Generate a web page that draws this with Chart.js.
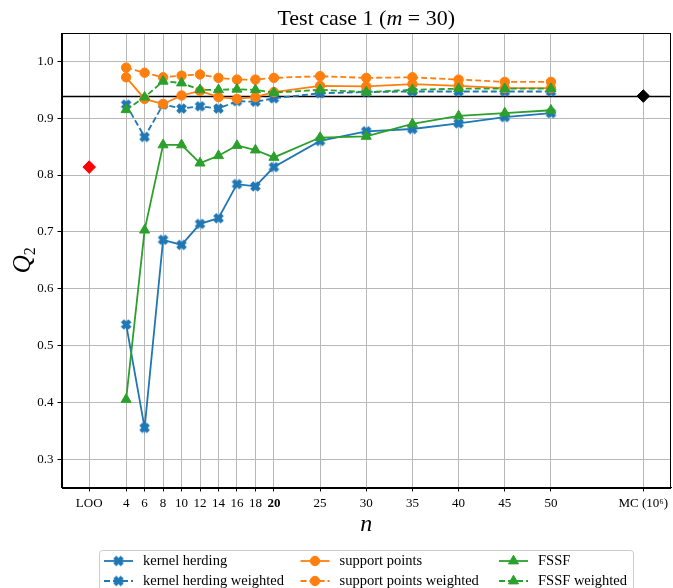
<!DOCTYPE html>
<html>
<head>
<meta charset="utf-8">
<script src="https://cdn.jsdelivr.net/npm/chart.js@4/dist/chart.umd.min.js"></script>
<style>
  html, body { margin: 0; padding: 0; background: #fff; }
  #wrap { width: 673px; height: 588px; }
</style>
</head>
<body>
<div id="wrap"><canvas id="c" width="673" height="588"></canvas></div>
<script>
// Sample sizes n and Q2 values for each design method (test case 1, m = 30)
const nValues = [4, 6, 8, 10, 12, 14, 16, 18, 20, 25, 30, 35, 40, 45, 50];
const kernelHerding         = [0.537, 0.355, 0.686, 0.677, 0.714, 0.724, 0.784, 0.780, 0.814, 0.860, 0.877, 0.881, 0.891, 0.902, 0.909];
const kernelHerdingWeighted = [0.924, 0.867, 0.924, 0.917, 0.921, 0.917, 0.930, 0.929, 0.935, 0.944, 0.946, 0.947, 0.947, 0.947, 0.947];
const supportPoints         = [0.972, 0.934, 0.925, 0.940, 0.948, 0.937, 0.934, 0.937, 0.946, 0.957, 0.956, 0.960, 0.957, 0.953, 0.953];
const supportPointsWeighted = [0.989, 0.980, 0.972, 0.975, 0.977, 0.971, 0.968, 0.968, 0.971, 0.974, 0.971, 0.972, 0.968, 0.964, 0.964];
const fssf                  = [0.405, 0.703, 0.853, 0.853, 0.821, 0.834, 0.852, 0.844, 0.831, 0.866, 0.868, 0.890, 0.904, 0.909, 0.914];
const fssfWeighted          = [0.915, 0.937, 0.965, 0.962, 0.950, 0.950, 0.951, 0.950, 0.945, 0.950, 0.946, 0.950, 0.952, 0.952, 0.952];

// Reference estimates: leave-one-out and Monte Carlo (10^6 samples)
const looPosition = 0;
const mcPosition = 60;
const looValue = [0.814];
const mcValue = [0.939];

// Axis ticks
const xTickValues = [0, 4, 6, 8, 10, 12, 14, 16, 18, 20, 25, 30, 35, 40, 45, 50, 60];
const xTickLabels = ['LOO', '4', '6', '8', '10', '12', '14', '16', '18', '20', '25', '30', '35', '40', '45', '50', 'MC (10\u2076)'];
const yTickValues = [0.3, 0.4, 0.5, 0.6, 0.7, 0.8, 0.9, 1.0];

const BLUE = '#1f77b4', ORANGE = '#ff7f0e', GREEN = '#2ca02c';
const SERIF = '"Liberation Serif", "DejaVu Serif", serif';

// Filled "X" marker as a small canvas
function makeXMarker(color) {
  const s = 13;
  const c = document.createElement('canvas');
  c.width = s; c.height = s;
  const g = c.getContext('2d');
  const a = 5.3, w = 2.2;
  g.translate(s / 2, s / 2);
  g.fillStyle = color;
  g.beginPath();
  const pts = [[-w, -a], [w, -a], [w, -w], [a, -w], [a, w], [w, w], [w, a], [-w, a], [-w, w], [-a, w], [-a, -w], [-w, -w]];
  g.rotate(Math.PI / 4);
  pts.forEach((p, i) => i ? g.lineTo(p[0], p[1]) : g.moveTo(p[0], p[1]));
  g.closePath();
  g.fill();
  return c;
}
const xMarker = makeXMarker(BLUE);

const series = [
  { label: 'kernel herding',          values: kernelHerding,         color: BLUE,   dash: [],     marker: 'x' },
  { label: 'kernel herding weighted', values: kernelHerdingWeighted, color: BLUE,   dash: [6, 3], marker: 'x' },
  { label: 'support points',          values: supportPoints,         color: ORANGE, dash: [],     marker: 'circle' },
  { label: 'support points weighted', values: supportPointsWeighted, color: ORANGE, dash: [6, 3], marker: 'circle' },
  { label: 'FSSF',                    values: fssf,                  color: GREEN,  dash: [],     marker: 'triangle' },
  { label: 'FSSF weighted',           values: fssfWeighted,          color: GREEN,  dash: [6, 3], marker: 'triangle' }
];

function markerStyle(m) {
  if (m === 'x') return { pointStyle: xMarker, pointRadius: 5 };
  if (m === 'circle') return { pointStyle: 'circle', pointRadius: 4.7 };
  return { pointStyle: 'triangle', pointRadius: 5.8 };
}

const datasets = series.map((s, i) => Object.assign({
  label: s.label,
  data: nValues.map((n, k) => ({ x: n, y: s.values[k] })),
  borderColor: s.color,
  backgroundColor: s.color,
  borderWidth: 1.8,
  borderDash: s.dash,
  pointBorderWidth: 1,
  pointBorderColor: s.color,
  pointBackgroundColor: s.color,
  tension: 0,
  order: 20 - i
}, markerStyle(s.marker)));

datasets.push({
  label: 'LOO',
  data: looValue.map(v => ({ x: looPosition, y: v })),
  showLine: false,
  pointStyle: 'rectRot',
  pointRadius: 6.3,
  pointBackgroundColor: '#ff0000',
  pointBorderColor: '#ff0000',
  pointBorderWidth: 1,
  order: 5
});
datasets.push({
  label: 'MC',
  data: mcValue.map(v => ({ x: mcPosition, y: v })),
  showLine: false,
  pointStyle: 'rectRot',
  pointRadius: 6.3,
  pointBackgroundColor: '#000000',
  pointBorderColor: '#000000',
  pointBorderWidth: 1,
  order: 4
});

// Frame, reference line, title, axis titles and legend
const decorations = {
  id: 'decorations',
  beforeDatasetsDraw(chart) {
    const { ctx, chartArea: a, scales } = chart;
    const y = Math.round(scales.y.getPixelForValue(mcValue[0])) + 0.5;
    ctx.save();
    ctx.strokeStyle = '#000';
    ctx.lineWidth = 1.3;
    ctx.beginPath();
    ctx.moveTo(a.left, y);
    ctx.lineTo(a.right, y);
    ctx.stroke();
    ctx.restore();
  },
  afterDraw(chart) {
    const { ctx, chartArea: a } = chart;
    ctx.save();
    // frame
    ctx.strokeStyle = '#000';
    ctx.lineWidth = 1;
    ctx.strokeRect(Math.round(a.left) + 0.5, Math.round(a.top) + 0.5,
                   Math.round(a.right) - Math.round(a.left) - 1, Math.round(a.bottom) - Math.round(a.top));

    const cx = (a.left + a.right) / 2;
    ctx.fillStyle = '#000';
    ctx.textBaseline = 'alphabetic';

    // title with italic m
    const parts = [
      { t: 'Test case 1 (', f: '22px ' + SERIF },
      { t: 'm', f: 'italic 22px ' + SERIF },
      { t: ' = 30)', f: '22px ' + SERIF }
    ];
    let total = 0;
    parts.forEach(p => { ctx.font = p.f; p.w = ctx.measureText(p.t).width; total += p.w; });
    let x = cx - total / 2;
    parts.forEach(p => { ctx.font = p.f; ctx.textAlign = 'left'; ctx.fillText(p.t, x, 25); x += p.w; });

    // x axis title
    ctx.font = 'italic 24px ' + SERIF;
    ctx.textAlign = 'center';
    ctx.fillText('n', cx, 531);

    // y axis title Q_2
    ctx.save();
    ctx.translate(30, (a.top + a.bottom) / 2);
    ctx.rotate(-Math.PI / 2);
    ctx.font = 'italic 25px ' + SERIF;
    const qw = ctx.measureText('Q').width;
    ctx.font = '16px ' + SERIF;
    const sw = ctx.measureText('2').width;
    const start = -(qw + sw) / 2;
    ctx.font = 'italic 25px ' + SERIF;
    ctx.textAlign = 'left';
    ctx.fillText('Q', start, 0);
    ctx.font = '16px ' + SERIF;
    ctx.fillText('2', start + qw, 5);
    ctx.restore();

    // legend
    const bx = 99.5, by = 550.5, bw = 534, bh = 44;
    ctx.fillStyle = 'rgba(255,255,255,0.85)';
    ctx.strokeStyle = '#cccccc';
    ctx.lineWidth = 1;
    ctx.beginPath();
    ctx.roundRect(bx, by, bw, bh, 3);
    ctx.fill();
    ctx.stroke();

    const colX = [104, 300.5, 499];
    const rowY = [561, 581];
    const handleLen = 29;
    series.forEach((s, i) => {
      const col = Math.floor(i / 2), row = i % 2;
      const x0 = colX[col], y0 = rowY[row];
      ctx.save();
      ctx.strokeStyle = s.color;
      ctx.fillStyle = s.color;
      ctx.lineWidth = 1.8;
      ctx.setLineDash(s.dash);
      ctx.beginPath();
      ctx.moveTo(x0, y0);
      ctx.lineTo(x0 + handleLen, y0);
      ctx.stroke();
      ctx.setLineDash([]);
      ctx.lineWidth = 1;
      const ms = markerStyle(s.marker);
      Chart.helpers.drawPoint(ctx, {
        pointStyle: ms.pointStyle, radius: ms.pointRadius, rotation: 0, borderWidth: 1
      }, x0 + handleLen / 2, y0);
      ctx.restore();
      ctx.fillStyle = '#000';
      ctx.font = '14.5px ' + SERIF;
      ctx.textAlign = 'left';
      ctx.textBaseline = 'middle';
      ctx.fillText(s.label, x0 + 39, y0 + 0.5);
    });
    ctx.restore();
  }
};

new Chart(document.getElementById('c'), {
  type: 'line',
  data: { datasets },
  plugins: [decorations],
  options: {
    responsive: false,
    animation: false,
    devicePixelRatio: 1,
    layout: { autoPadding: false, padding: { top: 33, right: 2, left: 0, bottom: 0 } },
    plugins: { legend: { display: false }, title: { display: false }, tooltip: { enabled: false } },
    scales: {
      x: {
        type: 'linear',
        min: -3, max: 63,
        afterBuildTicks: s => { s.ticks = xTickValues.map(v => ({ value: v })); },
        afterFit: s => { s.height = 100.5; s.paddingLeft = 0; s.paddingRight = 0; },
        ticks: {
          autoSkip: false, maxRotation: 0, color: '#000', padding: 4,
          font: c => ({ family: SERIF, size: 13, weight: (c.tick && c.tick.value === 20) ? 'bold' : 'normal' }),
          callback: v => { const i = xTickValues.indexOf(v); return i >= 0 ? xTickLabels[i] : ''; }
        },
        grid: { color: '#b8b8b8', lineWidth: 1, tickColor: '#000', tickLength: 4 },
        border: { color: '#000' }
      },
      y: {
        type: 'linear',
        min: 0.25, max: 1.05,
        afterBuildTicks: s => { s.ticks = yTickValues.map(v => ({ value: v })); },
        afterFit: s => { s.width = 61.5; s.paddingTop = 0; s.paddingBottom = 0; },
        ticks: {
          color: '#000', padding: 4,
          font: { family: SERIF, size: 13 },
          callback: v => Number(v).toFixed(1)
        },
        grid: { color: '#b8b8b8', lineWidth: 1, tickColor: '#000', tickLength: 4 },
        border: { color: '#000' }
      }
    }
  }
});
</script>
</body>
</html>
